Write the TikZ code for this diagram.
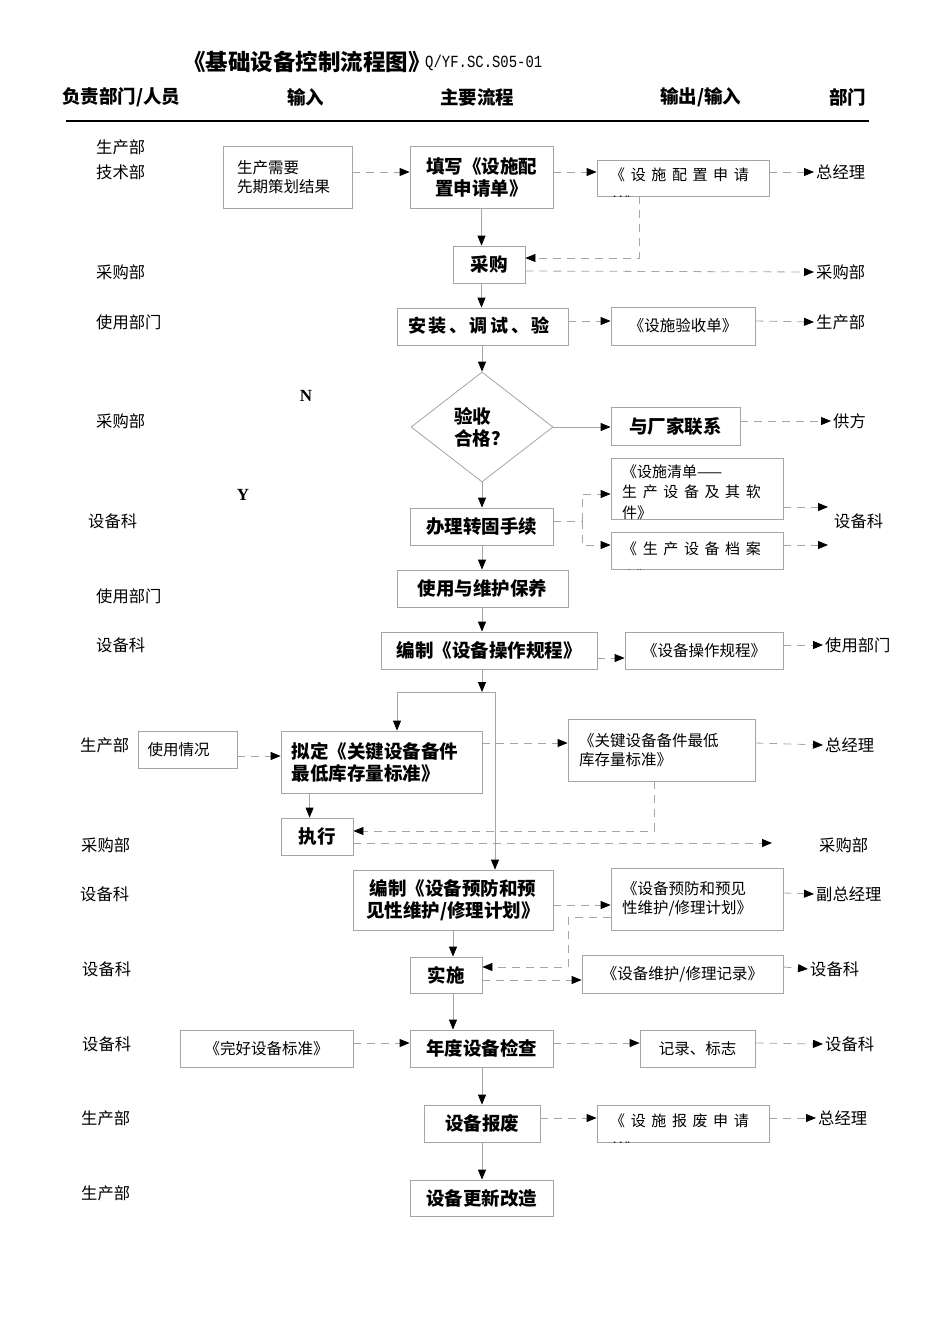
\documentclass[tikz,border=0pt]{standalone}
\usepackage{fontspec}
\usepackage{graphicx}
\setmainfont{Noto Sans CJK SC}
\newfontfamily\serifb{Liberation Serif}
\newfontfamily\monof{Liberation Mono}
\usetikzlibrary{arrows.meta,shapes.geometric}
\definecolor{lg}{RGB}{165,165,165}
\newcommand\kg{\kern5.6pt}
\newcommand\kf{\kern2.6pt}
\newcommand\bx[7][]{\node[#1, minimum width={(#5)-(#3)}, minimum height={(#6)-(#4)}] (#2) at ({((#3)+(#5))/2},{((#4)+(#6))/2}) {#7};}
\tikzset{
  box/.style={draw=lg, line width=0.8pt, inner sep=2pt},
  flow/.style={box, font=\bfseries\fontsize{18.5}{22}\selectfont, align=center},
  doc/.style={box, font=\fontsize{15.5}{19.5}\selectfont, align=center},
  lab/.style={font=\fontsize{16.3}{18}\selectfont, anchor=west, inner sep=0pt},
  rlab/.style={font=\fontsize{16.3}{18}\selectfont, anchor=west, inner sep=2pt},
  hd/.style={font=\bfseries\fontsize{18.5}{20}\selectfont, anchor=west, inner sep=0pt},
  tip/.style={-{Triangle[length=10pt,width=8pt,color=black]}},
  sl/.style={draw=lg, line width=0.8pt, tip},
  dl/.style={draw=lg, line width=0.8pt, dash pattern=on 8pt off 6pt, tip},
  dln/.style={draw=lg, line width=0.8pt, dash pattern=on 8pt off 6pt},
  sln/.style={draw=lg, line width=0.8pt},
}
\begin{document}
\begin{tikzpicture}[x=1pt,y=-1pt]
\useasboundingbox[fill=white] (0,0) rectangle (950,1344);
% title & header
\node[anchor=west, inner sep=0pt, font=\bfseries\fontsize{22.5}{26}\selectfont] (title) at (183,62) {《基础设备控制流程图》};
\node[anchor=west, inner sep=0pt] (code) at (425,63) {\scalebox{0.82}[1]{\fontsize{17}{17}\monof Q/YF.SC.S05-01}};
\node[hd] (h1) at (62,97) {负责部门/人员};
\node[hd] (h2) at (287,97) {输入};
\node[hd] (h3) at (440,97) {主要流程};
\node[hd] (h4) at (660,97) {输出/输入};
\node[hd] (h5) at (829,97) {部门};
\coordinate (hlL) at (66,121);
\coordinate (hlR) at (869,121);
\draw[line width=2pt] (hlL) -- (hlR);
% left labels
\node[lab] (l1) at (96,147) {生产部};
\node[lab] (l2) at (96,172) {技术部};
\node[lab] (l3) at (96,272) {采购部};
\node[lab] (l4) at (96,322) {使用部门};
\node[lab] (l5) at (96,421) {采购部};
\node[lab] (l6) at (88,521) {设备科};
\node[lab] (l7) at (96,596) {使用部门};
\node[lab] (l8) at (96,645) {设备科};
\node[lab] (l9) at (80,745) {生产部};
\node[lab] (l10) at (81,845) {采购部};
\node[lab] (l11) at (80,894) {设备科};
\node[lab] (l12) at (82,969) {设备科};
\node[lab] (l13) at (82,1044) {设备科};
\node[lab] (l14) at (81,1118) {生产部};
\node[lab] (l15) at (81,1193) {生产部};
% right labels
\node[rlab] (r1) at (814,172) {总经理};
\node[rlab] (r2) at (814,272) {采购部};
\node[rlab] (r3) at (814,322) {生产部};
\node[rlab] (r4) at (831,421) {供方};
\node[rlab] (r5) at (832,521) {设备科};
\node[rlab] (r6) at (823,645) {使用部门};
\node[rlab] (r7) at (823,745) {总经理};
\node[rlab] (r8) at (817,845) {采购部};
\node[rlab] (r9) at (814,894) {副总经理};
\node[rlab] (r10) at (808,969) {设备科};
\node[rlab] (r11) at (823,1044) {设备科};
\node[rlab] (r12) at (816,1118) {总经理};
% boxes
\bx[doc, text width=101pt, align=left]{in1}{223}{146}{352}{208}{生产需要\\先期策划结果}
\bx[flow]{fill}{410}{146}{553}{208}{填写《设施配\\置申请单》}
\bx[box]{doc1}{597}{160}{769}{196}{}
\begin{scope}
\clip (doc1.north west) rectangle (doc1.south east);
\node[anchor=north west, inner sep=0pt, align=left, font=\fontsize{15}{28}\selectfont] (doc1t) at (610,168) {《\kg 设\kg 施\kg 配\kg 置\kg 申\kg 请\\单》};
\end{scope}
\bx[flow]{buy}{453}{246}{525}{283}{采购}
\bx[box]{inst}{397}{308}{568}{345}{}
\begin{scope}
\clip (inst.north west) rectangle (inst.south east);
\node[anchor=north west, inner sep=0pt, align=left, font=\bfseries\fontsize{18}{30}\selectfont] (instt) at (408,317) {安\kf 装\kf 、\kf 调\kf 试\kf 、\kf 验\\收};
\end{scope}
\bx[doc]{doc2}{611}{307}{755}{345}{《设施验收单》}
\node[draw=lg, line width=0.8pt, shape=diamond, minimum width=142pt, minimum height=110pt, inner sep=0pt, font=\bfseries\fontsize{18.5}{22}\selectfont, align=left] (dia) at (482,427) {验收\\合格？};
\node[inner sep=0pt, font=\serifb\bfseries\fontsize{17}{20}\selectfont] (nlab) at (306,396) {N};
\node[inner sep=0pt, font=\serifb\bfseries\fontsize{17}{20}\selectfont] (ylab) at (243,495) {Y};
\bx[flow]{vend}{611}{407}{740}{445}{与厂家联系}
\bx[flow]{fix}{410}{508}{553}{545}{办理转固手续}
\bx[box]{doc3}{611}{458}{783}{519}{}
\begin{scope}
\clip (doc3.north west) rectangle (doc3.south east);
\node[anchor=north west, inner sep=0pt, align=left, font=\fontsize{15}{20}\selectfont] (doc3t) at (622,465) {《设施清单——\\生\kg 产\kg 设\kg 备\kg 及\kg 其\kg 软\\[1pt]件》};
\end{scope}
\bx[box]{doc4}{611}{532}{783}{569}{}
\begin{scope}
\clip (doc4.north west) rectangle (doc4.south east);
\node[anchor=north west, inner sep=0pt, align=left, font=\fontsize{15}{28}\selectfont] (doc4t) at (622,542) {《\kg 生\kg 产\kg 设\kg 备\kg 档\kg 案\\卡》};
\end{scope}
\bx[flow]{use}{397}{570}{568}{607}{使用与维护保养}
\bx[flow]{ops}{381}{632}{597}{669}{编制《设备操作规程》}
\bx[doc]{doc5}{625}{632}{783}{669}{《设备操作规程》}
\bx[doc, text width=80pt, align=left]{usage}{138}{731}{237}{768}{使用情况}
\bx[flow, text width=180pt, align=left]{stock}{281}{731}{482}{793}{拟定《关键设备备件\\最低库存量标准》}
\bx[doc, text width=165pt, align=left]{doc6}{568}{719}{755}{781}{《关键设备备件最低\\库存量标准》\\[4pt]}
\bx[flow]{exe}{281}{818}{353}{855}{执行}
\bx[flow]{plan}{353}{870}{553}{930}{编制《设备预防和预\\见性维护/修理计划》}
\bx[doc, text width=150pt, align=left]{doc7}{611}{868}{783}{930}{《设备预防和预见\\性维护/修理计划》\\[2pt]}
\bx[flow]{impl}{410}{957}{482}{993}{实施}
\bx[doc]{doc8}{582}{955}{783}{993}{《设备维护/修理记录》}
\bx[doc]{std}{180}{1030}{353}{1067}{《完好设备标准》}
\bx[flow]{insp}{410}{1030}{553}{1067}{年度设备检查}
\bx[doc]{doc9}{640}{1030}{755}{1067}{记录、标志}
\bx[flow]{scr}{424}{1105}{540}{1142}{设备报废}
\bx[box]{doc10}{597}{1105}{769}{1142}{}
\begin{scope}
\clip (doc10.north west) rectangle (doc10.south east);
\node[anchor=north west, inner sep=0pt, align=left, font=\fontsize{15}{28}\selectfont] (doc10t) at (610,1114) {《\kg 设\kg 施\kg 报\kg 废\kg 申\kg 请\\单》};
\end{scope}
\bx[flow]{ren}{410}{1180}{553}{1216}{设备更新改造}
% coordinates
\coordinate (sp1) at (582,521);
\coordinate (e5a) at (828,507);
\coordinate (e5b) at (828,545);
\coordinate (jM) at (482,692);
\coordinate (jL) at (397,692);
\coordinate (jR) at (495,692);
\coordinate (e8) at (772,843);
\coordinate (b7) at (568,917);
% connectors
\draw[dl] (in1.east |- 0,172) -- (fill.west |- 0,172);
\draw[dl] (fill.east |- 0,172) -- (doc1.west |- 0,172);
\draw[dl] (doc1.east |- 0,172) -- (r1.west);
\draw[sl] (fill.south) -- (fill.south |- buy.north);
\draw[dl] ([xshift=43pt]doc1.south west) |- (buy.east |- 0,258);
\draw[dl] (buy.east |- 0,271) -- (r2.west);
\draw[sl] (buy.south -| fill.south) -- (inst.north -| fill.south);
\draw[dl] (inst.east |- 0,321) -- (doc2.west |- 0,321);
\draw[dl] (doc2.east |- 0,321) -- (r3.west);
\draw[sl] (inst.south -| dia.north) -- (dia.north);
\draw[sl] (dia.east) -- (vend.west |- dia.east);
\draw[dl] (vend.east |- 0,421) -- (r4.west);
\draw[sl] (dia.south) -- (fix.north -| dia.south);
\draw[dln] (fix.east |- sp1) -- (sp1);
\draw[dl] (sp1) |- (doc3.west |- 0,494);
\draw[dl] (sp1) |- (doc4.west |- 0,545);
\draw[dl] (doc3.east |- e5a) -- (e5a);
\draw[dl] (doc4.east |- e5b) -- (e5b);
\draw[sl] (fix.south -| dia.south) -- (use.north -| dia.south);
\draw[sl] (use.south -| dia.south) -- (ops.north -| dia.south);
\draw[dl] (ops.east |- 0,658) -- (doc5.west |- 0,658);
\draw[dl] (doc5.east |- 0,645) -- (r6.west);
\draw[sl] (ops.south -| jM) -- (jM);
\draw[sln] (jL) -- (jR);
\draw[sl] (jL) -- (stock.north -| jL);
\draw[sl] (jR) -- (plan.north -| jR);
\draw[dl] (usage.east |- 0,756) -- (stock.west |- 0,756);
\draw[dl] (stock.east |- 0,743) -- (doc6.west |- 0,743);
\draw[dl] (doc6.east |- 0,743) -- (r7.west);
\draw[sl] ([xshift=29pt]stock.south west) -- ([xshift=29pt]exe.north west);
\draw[dl] ([xshift=87pt]doc6.south west) |- (exe.east |- 0,831);
\draw[dl] (exe.east |- e8) -- (e8);
\draw[dl] (plan.east |- 0,905) -- (doc7.west |- 0,905);
\draw[dl] (doc7.east |- 0,893) -- (r9.west);
\draw[dln] (doc7.west |- b7) -- (b7);
\draw[dl] (b7) |- (impl.east |- 0,967);
\draw[sl] (plan.south) -- (plan.south |- impl.north);
\draw[dl] (impl.east |- 0,980) -- (doc8.west |- 0,980);
\draw[dl] (doc8.east |- 0,967) -- (r10.west);
\draw[sl] (impl.south -| plan.south) -- (insp.north -| plan.south);
\draw[dl] (std.east |- 0,1043) -- (insp.west |- 0,1043);
\draw[dl] (insp.east |- 0,1043) -- (doc9.west |- 0,1043);
\draw[dl] (doc9.east |- 0,1043) -- (r11.west);
\draw[sl] (insp.south -| dia.south) -- (scr.north -| dia.south);
\draw[dl] (scr.east |- 0,1118) -- (doc10.west |- 0,1118);
\draw[dl] (doc10.east |- 0,1118) -- (r12.west);
\draw[sl] (scr.south -| dia.south) -- (ren.north -| dia.south);
\end{tikzpicture}
\end{document}
